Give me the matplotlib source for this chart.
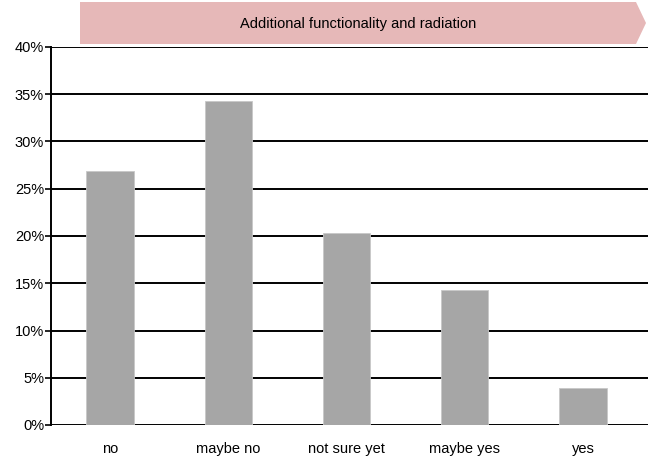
import matplotlib
matplotlib.use('Agg')
import matplotlib.pyplot as plt
from matplotlib.patches import Polygon

categories = ['no', 'maybe no', 'not sure yet', 'maybe yes', 'yes']
values = [26.9, 34.3, 20.3, 14.3, 3.9]
yticks = [0, 5, 10, 15, 20, 25, 30, 35, 40]
title = 'Additional functionality and radiation'

plt.rcParams['font.family'] = ['Liberation Sans', 'DejaVu Sans']

fig = plt.figure(figsize=(6.48, 4.57), dpi=100)
W, H = 648, 457
ax = fig.add_axes([51 / W, 1 - 425 / H, (648 - 51) / W, (425 - 47) / H])

ax.bar(range(len(categories)), values, width=0.4, color='#a6a6a6',
       edgecolor='#c8c8c8', linewidth=0.6, zorder=3)

ax.set_xlim(-0.5, len(categories) - 0.45)
ax.set_ylim(0, 40)
ax.set_yticks(yticks)
ax.set_yticklabels([f'{t}%' for t in yticks], fontsize=10.5)
ax.set_xticks(range(len(categories)))
ax.set_xticklabels(categories, fontsize=10.5)
ax.tick_params(axis='x', length=0, pad=12)
ax.tick_params(axis='y', length=4, width=1.2, pad=1, direction='out')
ax.yaxis.grid(True, color='black', linewidth=1.4, zorder=0)
for s in ['top', 'right', 'bottom']:
    ax.spines[s].set_visible(False)
ax.spines['left'].set_linewidth(1.4)
ax.set_axisbelow(True)

# banner arrow above the plot
x0, x1, xp = 80 / W, 636 / W, 646 / W
y0, y1 = 1 - 44 / H, 1 - 2 / H
banner = Polygon([(x0, y0), (x1, y0), (xp, (y0 + y1) / 2), (x1, y1), (x0, y1)],
                 closed=True, transform=fig.transFigure, facecolor='#e6b8b8',
                 edgecolor='none')
fig.patches.append(banner)
fig.text((x0 + x1) / 2, 1 - 24 / H, title, ha='center', va='center', fontsize=10.5)

fig.savefig('out.png', dpi=100)
